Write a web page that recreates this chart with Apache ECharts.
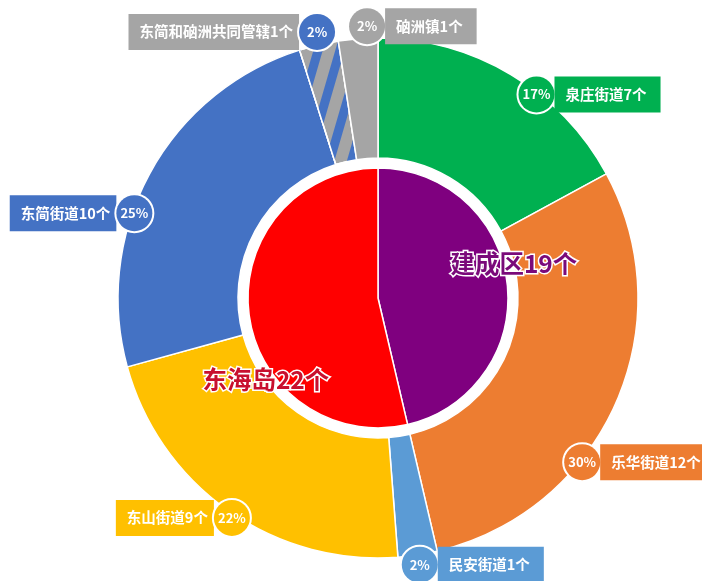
<!DOCTYPE html>
<html><head><meta charset="utf-8">
<script src="https://cdn.jsdelivr.net/npm/echarts@6/dist/echarts.min.js"></script>
<style>html,body{margin:0;padding:0;background:#fff}#main{width:702px;height:581px}</style>
</head><body><div id="main"></div>
<script>
// ---- data ----
const innerNames = ['建成区', '东海岛'];
const innerValues = [19, 22];
const outerNames = ['泉庄街道', '乐华街道', '民安街道', '东山街道', '东简街道', '东简和硇洲共同管辖', '硇洲镇'];
const outerValues = [7, 12, 1, 9, 10, 1, 1];
const outerPercentLabels = ['17%', '30%', '2%', '22%', '25%', '2%', '2%'];

// ---- styles ----
const innerColors = ['#7f007f', '#ff0000'];
const innerTextColors = ['#7a0a7a', '#c8102e'];
const outerColors = ['#00b050', '#ed7d31', '#5b9bd5', '#ffc000', '#4472c4', '#a5a5a5', '#a5a5a5'];
const badgeColors = ['#00b050', '#ed7d31', '#5b9bd5', '#ffc000', '#4472c4', '#4472c4', '#a5a5a5'];
const CX = 378, CY = 298, R_IN = 130, R0 = 140, R1 = 260;
// label placement: angle in degrees clockwise from 12 o'clock, distance from centre, side of text
const outerLabelPlace = [
  {a: 37.9, r: 258, side: 'right'},
  {a: 128.8, r: 262, side: 'right'},
  {a: 171.1, r: 270, side: 'right'},
  {a: 213.6, r: 264, side: 'left'},
  {a: 289.2, r: 258, side: 'left'},
  {a: 347.1, r: 273, side: 'left'},
  {a: 357.7, r: 272, side: 'right'}
];
const innerLabelPlace = [{a: 76, r: 140}, {a: 233.8, r: 139}];
const FONT = '"Noto Sans CJK SC", "Noto Sans", sans-serif';

function polar(a, r) {
  const t = a * Math.PI / 180;
  return [CX + r * Math.sin(t), CY - r * Math.cos(t)];
}

const rich = {};
outerNames.forEach((n, i) => {
  const side = outerLabelPlace[i].side;
  rich['p' + i] = {
    width: 36, height: 36, lineHeight: 36, align: 'center',
    backgroundColor: badgeColors[i], borderColor: '#fff', borderWidth: 2, borderRadius: 19,
    color: '#fff', fontSize: 13, fontWeight: 'bold', fontFamily: FONT
  };
  rich['n' + i] = {
    height: 36, lineHeight: 36,
    backgroundColor: outerColors[i],
    padding: side === 'right' ? [0, 14, 0, 11] : [0, 6, 0, 11],
    color: '#fff', fontSize: 14.5, fontWeight: 'bold', fontFamily: FONT
  };
});

const outerData = outerNames.map((n, i) => {
  const d = {name: n, value: outerValues[i], itemStyle: {color: outerColors[i]}};
  if (i === 5) {
    d.itemStyle.decal = {
      symbol: 'rect', symbolSize: 1, color: '#4472c4',
      dashArrayX: [1, 0], dashArrayY: [9, 12], rotation: -Math.PI * 0.41
    };
  }
  return d;
});
const innerData = innerNames.map((n, i) => ({
  name: n, value: innerValues[i], itemStyle: {color: innerColors[i]},
  label: {color: innerTextColors[i]}
}));

const chart = echarts.init(document.getElementById('main'), null, {renderer: 'canvas'});
chart.setOption({
  animation: false,
  backgroundColor: '#fff',
  series: [
    {
      type: 'pie', center: [CX, CY], radius: [R0, R1], startAngle: 90, clockwise: true,
      avoidLabelOverlap: false, emphasis: {disabled: true},
      itemStyle: {borderColor: '#fff', borderWidth: 1.5},
      label: {
        show: true, position: 'outside', rich: rich,
        formatter: p => {
          const i = p.dataIndex;
          const pct = '{p' + i + '|' + outerPercentLabels[i] + '}';
          const nm = '{n' + i + '|' + outerNames[i] + outerValues[i] + '个}';
          return outerLabelPlace[i].side === 'right' ? pct + nm : nm + pct;
        }
      },
      labelLine: {show: false, length: 0, length2: 0},
      labelLayout: p => {
        const pl = outerLabelPlace[p.dataIndex];
        const [x, y] = polar(pl.a, pl.r);
        return pl.side === 'right'
          ? {x: x - 18, y: y, align: 'left', verticalAlign: 'middle'}
          : {x: x + 18, y: y, align: 'right', verticalAlign: 'middle'};
      },
      data: outerData
    },
    {
      type: 'pie', center: [CX, CY], radius: [0, R_IN], startAngle: 90, clockwise: true,
      avoidLabelOverlap: false, emphasis: {disabled: true},
      itemStyle: {borderColor: '#fff', borderWidth: 1.5},
      label: {
        show: true, position: 'inside', formatter: '{b}{c}个',
        fontSize: 24.5, fontWeight: 'bold', fontFamily: FONT,
        textBorderColor: '#fff', textBorderWidth: 3
      },
      labelLine: {show: false},
      labelLayout: p => {
        const pl = innerLabelPlace[p.dataIndex];
        const [x, y] = polar(pl.a, pl.r);
        return {x: x, y: y, align: 'center', verticalAlign: 'middle'};
      },
      data: innerData
    }
  ]
});
</script></body></html>
